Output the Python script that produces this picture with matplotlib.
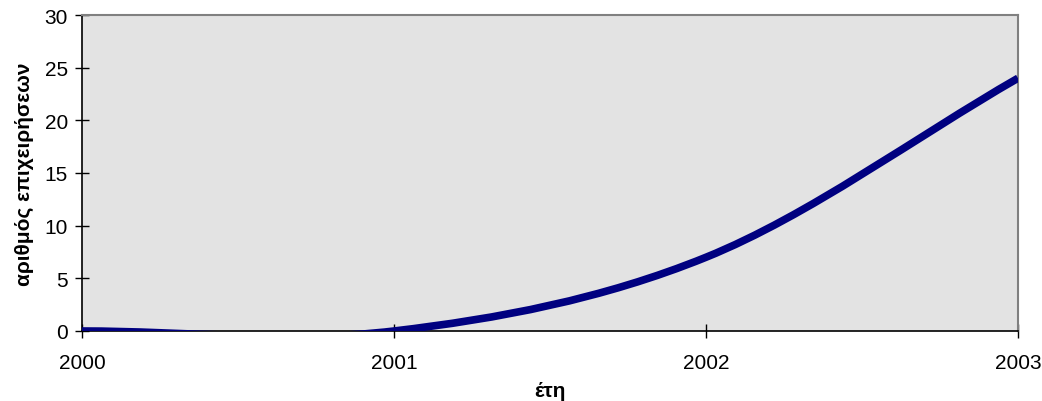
import numpy as np
import matplotlib
matplotlib.use("Agg")
import matplotlib.pyplot as plt
from matplotlib.path import Path
from matplotlib.patches import PathPatch

years = [2000, 2001, 2002, 2003]
firms = [0, 0, 7, 24]
y_ticks = [0, 5, 10, 15, 20, 25, 30]

plt.rcParams['font.family'] = ['Liberation Sans', 'DejaVu Sans']

fig = plt.figure(figsize=(10.42, 4.02), dpi=100)
ax = fig.add_axes([82 / 1042, 70 / 402, 936 / 1042, 316 / 402])
ax.set_facecolor('#e3e3e3')

# smoothed line: cubic Bezier segments with Catmull-Rom style control points
x = np.array(years, dtype=float)
y = np.array(firms, dtype=float)
n = len(x)
verts = [(x[0], y[0])]
codes = [Path.MOVETO]
for i in range(n - 1):
    x0, y0 = (x[i - 1], y[i - 1]) if i > 0 else (x[i], y[i])
    x3, y3 = (x[i + 2], y[i + 2]) if i + 2 < n else (x[i + 1], y[i + 1])
    if i == 0:
        c1 = (x[i] + (x[i + 1] - x[i]) / 3, y[i] + (y[i + 1] - y[i]) / 3)
    else:
        c1 = (x[i] + (x[i + 1] - x0) / 6, y[i] + (y[i + 1] - y0) / 6)
    if i + 2 >= n:
        c2 = (x[i + 1] - (x[i + 1] - x[i]) / 3, y[i + 1] - (y[i + 1] - y[i]) / 3)
    else:
        c2 = (x[i + 1] - (x3 - x[i]) / 6, y[i + 1] - (y3 - y[i]) / 6)
    verts += [c1, c2, (x[i + 1], y[i + 1])]
    codes += [Path.CURVE4, Path.CURVE4, Path.CURVE4]

curve = PathPatch(Path(verts, codes), facecolor='none', edgecolor='#000080',
                  linewidth=5.5, capstyle='butt', joinstyle='round', zorder=3)
ax.add_patch(curve)

ax.set_xlim(2000, 2003)
ax.set_ylim(0, 30)
ax.set_xticks(years)
ax.set_xticklabels([str(v) for v in years])
ax.set_yticks(y_ticks)

for side in ['top', 'right']:
    ax.spines[side].set_color('#808080')
    ax.spines[side].set_linewidth(1.5)
for side in ['left', 'bottom']:
    ax.spines[side].set_color('#000000')
    ax.spines[side].set_linewidth(1.2)

ax.tick_params(axis='both', direction='inout', length=10, width=1,
               color='black', labelsize=15)
ax.tick_params(axis='x', pad=11)
ax.tick_params(axis='y', pad=5)

ax.set_xlabel('έτη', fontsize=15, fontweight='bold', labelpad=6)
ax.set_ylabel('αριθμός επιχειρήσεων', fontsize=15, fontweight='bold', labelpad=8)

fig.savefig('out.png', dpi=100)
